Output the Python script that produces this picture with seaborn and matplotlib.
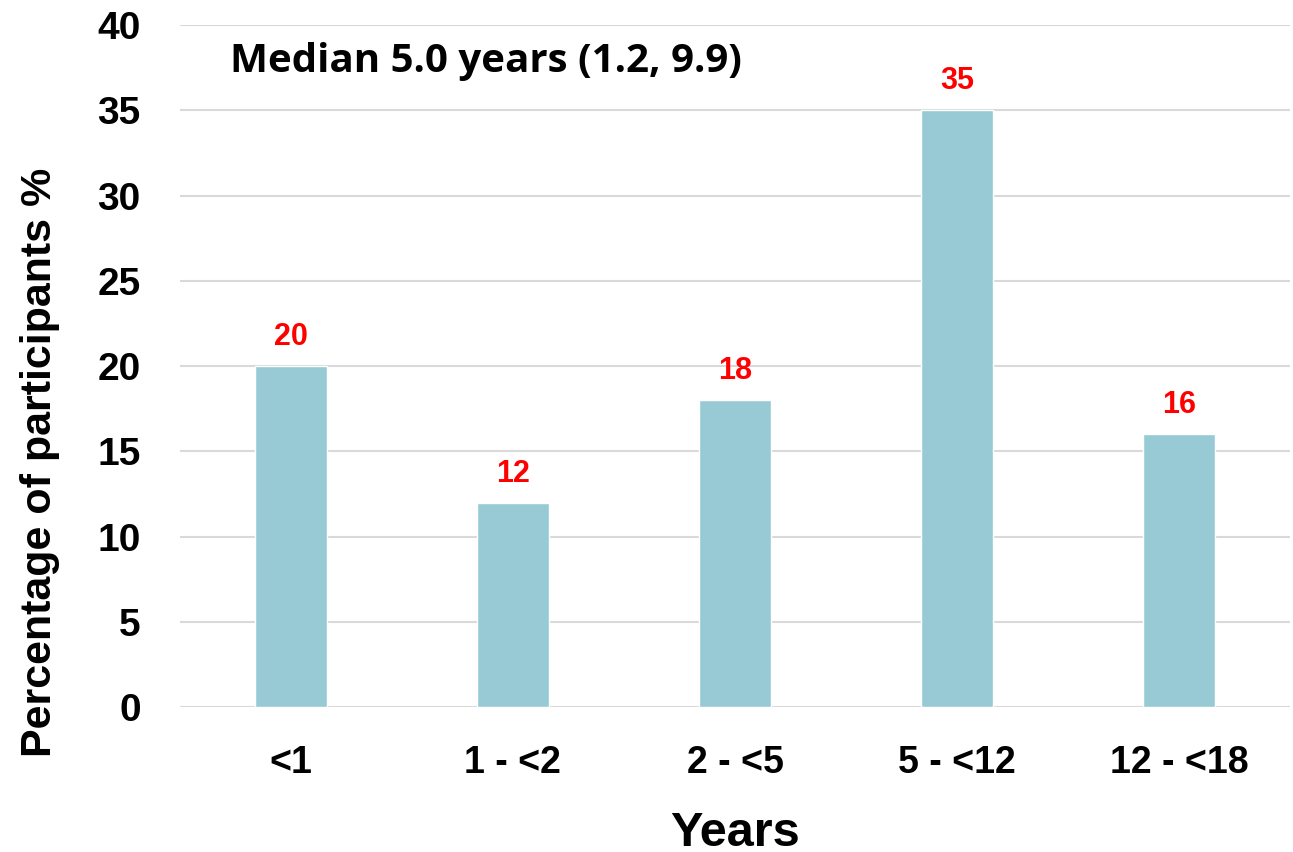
import matplotlib
matplotlib.use("Agg")
import matplotlib.pyplot as plt
import pandas as pd
import seaborn as sns

categories = ["<1", "1 - <2", "2 - <5", "5 - <12", "12 - <18"]
percentages = [20, 12, 18, 35, 16]
y_ticks = [0, 5, 10, 15, 20, 25, 30, 35, 40]

BAR_COLOR = "#97CAD5"
GRID_COLOR = "#D9D9D9"

sns.set_theme(style="white")
plt.rcParams["font.family"] = ["Liberation Sans", "DejaVu Sans"]
plt.rcParams["text.color"] = "black"
plt.rcParams["axes.labelcolor"] = "black"
plt.rcParams["xtick.color"] = "black"
plt.rcParams["ytick.color"] = "black"

df = pd.DataFrame({"Years": categories, "pct": percentages})

fig = plt.figure(figsize=(12.93, 8.52), dpi=100)
ax = fig.add_axes([0.139, 0.170, 0.859, 0.8007])

sns.barplot(data=df, x="Years", y="pct", color=BAR_COLOR, width=0.325,
            saturation=1, ax=ax, zorder=3)

ax.set_ylim(0, 40)
ax.set_xlim(-0.5, len(categories) - 0.5)
ax.set_yticks(y_ticks)
ax.yaxis.grid(True, color=GRID_COLOR, linewidth=1.5, zorder=0)
ax.set_axisbelow(True)
for s in ax.spines.values():
    s.set_visible(False)

ax.tick_params(axis="y", length=0, pad=28, labelsize=28)
ax.tick_params(axis="x", length=0, pad=27, labelsize=27)
for lab in ax.get_xticklabels() + ax.get_yticklabels():
    lab.set_fontweight("bold")

ax.set_xlabel("Years", fontsize=35, fontweight="bold")
ax.xaxis.set_label_coords(0.5, -0.152)
ax.set_ylabel("Percentage of participants %", fontsize=31, fontweight="bold")
ax.yaxis.set_label_coords(-0.108, 0.359)

for container in ax.containers:
    ax.bar_label(container, labels=[str(v) for v in percentages], padding=10,
                 color="#FF0000", fontsize=22, fontweight="bold")

ax.text(0.045, 0.946, "Median 5.0 years (1.2, 9.9)", transform=ax.transAxes,
        fontsize=29, fontweight="bold", family=["Open Sans", "DejaVu Sans"],
        va="center", ha="left")

fig.savefig("out.png", dpi=100)
